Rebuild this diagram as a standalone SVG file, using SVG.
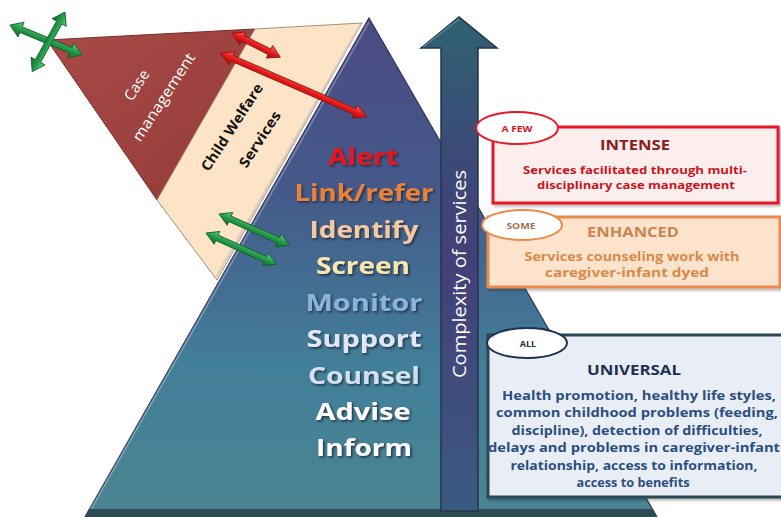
<svg xmlns="http://www.w3.org/2000/svg" width="781" height="517" viewBox="0 0 781 517">
<defs>
<style>
.pt{font-family:"Open Sans","Liberation Sans",sans-serif;font-weight:bold;font-size:24px;text-anchor:middle;filter:url(#sh)}
.bx{font-family:"Open Sans","Liberation Sans",sans-serif;font-weight:bold;text-anchor:middle}
.tag{font-family:"Open Sans","Liberation Sans",sans-serif;font-weight:bold;font-size:9px;text-anchor:middle}
.redA{fill:url(#redG);stroke:#8a1010;stroke-width:0.8}
.grnA{fill:url(#grnG);stroke:#145a28;stroke-width:0.8}
</style>
<filter id="sh" x="-10%" y="-20%" width="130%" height="150%">
<feDropShadow dx="1.5" dy="1.5" stdDeviation="0.8" flood-color="#1a2030" flood-opacity="0.8"/>
</filter>
<filter id="bs" x="-5%" y="-10%" width="115%" height="130%">
<feDropShadow dx="2" dy="2" stdDeviation="1.5" flood-color="#000" flood-opacity="0.3"/>
</filter>
<linearGradient id="pyrG" x1="0" y1="18" x2="0" y2="517" gradientUnits="userSpaceOnUse">
<stop offset="0" stop-color="#4b4a82"/>
<stop offset="0.35" stop-color="#445a8a"/>
<stop offset="0.7" stop-color="#427f98"/>
<stop offset="1" stop-color="#4b8593"/>
</linearGradient>
<linearGradient id="shaftG" x1="0" y1="17" x2="0" y2="511" gradientUnits="userSpaceOnUse">
<stop offset="0" stop-color="#2f6272"/>
<stop offset="0.25" stop-color="#3a4c76"/>
<stop offset="0.5" stop-color="#443f79"/>
<stop offset="1" stop-color="#3a5a80"/>
</linearGradient>
<linearGradient id="caseG" x1="0" y1="0" x2="1" y2="1">
<stop offset="0" stop-color="#a94b47"/>
<stop offset="1" stop-color="#923a38"/>
</linearGradient>
<linearGradient id="redG" x1="0" y1="0" x2="0" y2="1">
<stop offset="0" stop-color="#ff6a5a"/>
<stop offset="0.5" stop-color="#e81818"/>
<stop offset="1" stop-color="#a00c0c"/>
</linearGradient>
<linearGradient id="grnG" x1="0" y1="0" x2="0" y2="1">
<stop offset="0" stop-color="#6ad08a"/>
<stop offset="0.5" stop-color="#219a48"/>
<stop offset="1" stop-color="#136a2c"/>
</linearGradient>
</defs>

<g id="pyramid">
<polygon points="369,18 657,517 85,517" fill="url(#pyrG)" stroke="#2e3560" stroke-width="1.2"/>
<polyline points="369,22 91,509" fill="none" stroke="#ffffff" stroke-opacity="0.25" stroke-width="2"/>
<polygon points="89,509 653,509 657,517 85,517" fill="#2d4a55"/>
<text class="pt" x="363" y="165" fill="#e8141a" textLength="70" lengthAdjust="spacingAndGlyphs">Alert</text>
<text class="pt" x="364" y="201" fill="#e8813a" textLength="139" lengthAdjust="spacingAndGlyphs">Link/refer</text>
<text class="pt" x="364" y="238" fill="#f3c9a2" textLength="109" lengthAdjust="spacingAndGlyphs">Identify</text>
<text class="pt" x="363" y="274" fill="#f7e6b0" textLength="94" lengthAdjust="spacingAndGlyphs">Screen</text>
<text class="pt" x="364" y="311" fill="#8db3dc" textLength="117" lengthAdjust="spacingAndGlyphs">Monitor</text>
<text class="pt" x="364" y="347" fill="#dfe6f5" textLength="115" lengthAdjust="spacingAndGlyphs">Support</text>
<text class="pt" x="364" y="384" fill="#d3dff0" textLength="112" lengthAdjust="spacingAndGlyphs">Counsel</text>
<text class="pt" x="363" y="420" fill="#ffffff" textLength="95" lengthAdjust="spacingAndGlyphs">Advise</text>
<text class="pt" x="364" y="456" fill="#ffffff" textLength="96" lengthAdjust="spacingAndGlyphs">Inform</text>
</g>

<g id="case-management">
<polygon points="47,40 255,29 157,200" fill="url(#caseG)" stroke="#7a2c2a" stroke-width="1"/>
<text font-family="'Open Sans','Liberation Sans',sans-serif" font-size="15" fill="#ffffff" text-anchor="middle" transform="translate(141,88) rotate(-57)">Case</text>
<text font-family="'Open Sans','Liberation Sans',sans-serif" font-size="15" fill="#ffffff" text-anchor="middle" transform="translate(168,100) rotate(-57)" textLength="102" lengthAdjust="spacingAndGlyphs">management</text>
</g>

<g id="child-welfare-services">
<polygon points="255,29 362,23 217,280 157,200" fill="#fde4c6" stroke="#a89078" stroke-width="1"/>
<line x1="360" y1="25" x2="216" y2="277" stroke="#d8ccc0" stroke-width="2"/>
<text font-family="'Open Sans','Liberation Sans',sans-serif" font-weight="bold" font-size="14" fill="#111111" text-anchor="middle" transform="translate(236,130) rotate(-57)" textLength="101" lengthAdjust="spacingAndGlyphs">Child Welfare</text>
<text font-family="'Open Sans','Liberation Sans',sans-serif" font-weight="bold" font-size="14" fill="#111111" text-anchor="middle" transform="translate(264,142) rotate(-57)" textLength="64" lengthAdjust="spacingAndGlyphs">Services</text>
</g>

<g id="complexity-arrow">
<polygon points="421,48 459,17 497,48 478,48 478,511 441,511 441,48" fill="url(#shaftG)" stroke="#233448" stroke-width="1.5"/>
<polyline points="423,47 459,19" fill="none" stroke="#7fa8b8" stroke-opacity="0.6" stroke-width="1.5"/>
<text font-family="'Open Sans','Liberation Sans',sans-serif" font-size="18" fill="#ffffff" text-anchor="middle" transform="translate(466,274) rotate(-90)" textLength="208" lengthAdjust="spacingAndGlyphs">Complexity of services</text>
</g>

<g id="box-intense">
<rect x="493" y="127" width="285" height="76" fill="#fdeeee" stroke="#e8182a" stroke-width="3" filter="url(#bs)"/>
<ellipse cx="517" cy="128" rx="41" ry="16" fill="#ffffff" stroke="#e8182a" stroke-width="2"/>
<text class="tag" x="517" y="132" fill="#d8141c" textLength="31" lengthAdjust="spacingAndGlyphs">A FEW</text>
<text class="bx" x="635" y="150" font-size="14" fill="#8b1c1c" textLength="70" lengthAdjust="spacingAndGlyphs">INTENSE</text>
<text class="bx" x="635" y="174" font-size="11" fill="#c8141c" textLength="224" lengthAdjust="spacingAndGlyphs">Services facilitated through multi-</text>
<text class="bx" x="636" y="189" font-size="11" fill="#c8141c" textLength="198" lengthAdjust="spacingAndGlyphs">disciplinary case management</text>
</g>

<g id="box-enhanced">
<rect x="488" y="217" width="292" height="70" fill="#fde3cc" stroke="#eb8a4e" stroke-width="3" filter="url(#bs)"/>
<ellipse cx="522" cy="225" rx="40" ry="15" fill="#ffffff" stroke="#e9894a" stroke-width="2"/>
<text class="tag" x="521" y="229" fill="#a07050" textLength="29" lengthAdjust="spacingAndGlyphs">SOME</text>
<text class="bx" x="633" y="237" font-size="14" fill="#c98650" textLength="92" lengthAdjust="spacingAndGlyphs">ENHANCED</text>
<text class="bx" x="632" y="261" font-size="12" fill="#d9894a" textLength="215" lengthAdjust="spacingAndGlyphs">Services counseling work with</text>
<text class="bx" x="627" y="277" font-size="12" fill="#d9894a" textLength="164" lengthAdjust="spacingAndGlyphs">caregiver-infant dyed</text>
</g>

<g id="box-universal">
<rect x="488" y="335" width="300" height="162" fill="#e9eef6" stroke="#2a4655" stroke-width="3" filter="url(#bs)"/>
<ellipse cx="527" cy="343" rx="40" ry="15" fill="#ffffff" stroke="#1e3150" stroke-width="2"/>
<text class="tag" x="528" y="347" font-size="8" fill="#1e3150">ALL</text>
<text class="bx" x="634" y="375" font-size="15" fill="#1e3150" textLength="94" lengthAdjust="spacingAndGlyphs">UNIVERSAL</text>
<text class="bx" x="639" y="400" font-size="12.5" fill="#2b4f80" textLength="274" lengthAdjust="spacingAndGlyphs">Health promotion, healthy life styles,</text>
<text class="bx" x="637" y="417" font-size="12.5" fill="#2b4f80" textLength="282" lengthAdjust="spacingAndGlyphs">common childhood  problems (feeding,</text>
<text class="bx" x="637" y="435" font-size="12.5" fill="#2b4f80" textLength="251" lengthAdjust="spacingAndGlyphs">discipline), detection of difficulties,</text>
<text class="bx" x="634" y="452" font-size="12.5" fill="#2b4f80" textLength="292" lengthAdjust="spacingAndGlyphs">delays and problems in caregiver-infant</text>
<text class="bx" x="634" y="470" font-size="12.5" fill="#2b4f80" textLength="247" lengthAdjust="spacingAndGlyphs">relationship, access to information,</text>
<text class="bx" x="633" y="487" font-size="12.5" fill="#2b4f80" textLength="113" lengthAdjust="spacingAndGlyphs">access to benefits</text>
</g>

<g id="connectors">
<polygon class="redA" transform="translate(232,33) rotate(26.6)" points="0,0 12,-7 12,-3 42,-3 42,-7 54,0 42,7 42,3 12,3 12,7"/>
<polygon class="redA" transform="translate(220,53) rotate(23.5)" points="0,0 13,-7 13,-3 147,-3 147,-7 160,0 147,7 147,3 13,3 13,7"/>
<polygon class="grnA" transform="translate(219,214) rotate(23.9)" points="0,0 12,-7 12,-3 65,-3 65,-7 77,0 65,7 65,3 12,3 12,7"/>
<polygon class="grnA" transform="translate(206,233) rotate(23.9)" points="0,0 12,-7 12,-3 65,-3 65,-7 77,0 65,7 65,3 12,3 12,7"/>
<polygon class="grnA" transform="translate(10,25) rotate(22.6)" points="0,0 12,-8 12,-3 66,-3 66,-8 78,0 66,8 66,3 12,3 12,8"/>
<polygon class="grnA" transform="translate(65,12) rotate(118.8)" points="0,0 12,-8 12,-3 56,-3 56,-8 68,0 56,8 56,3 12,3 12,8"/>
</g>
</svg>
